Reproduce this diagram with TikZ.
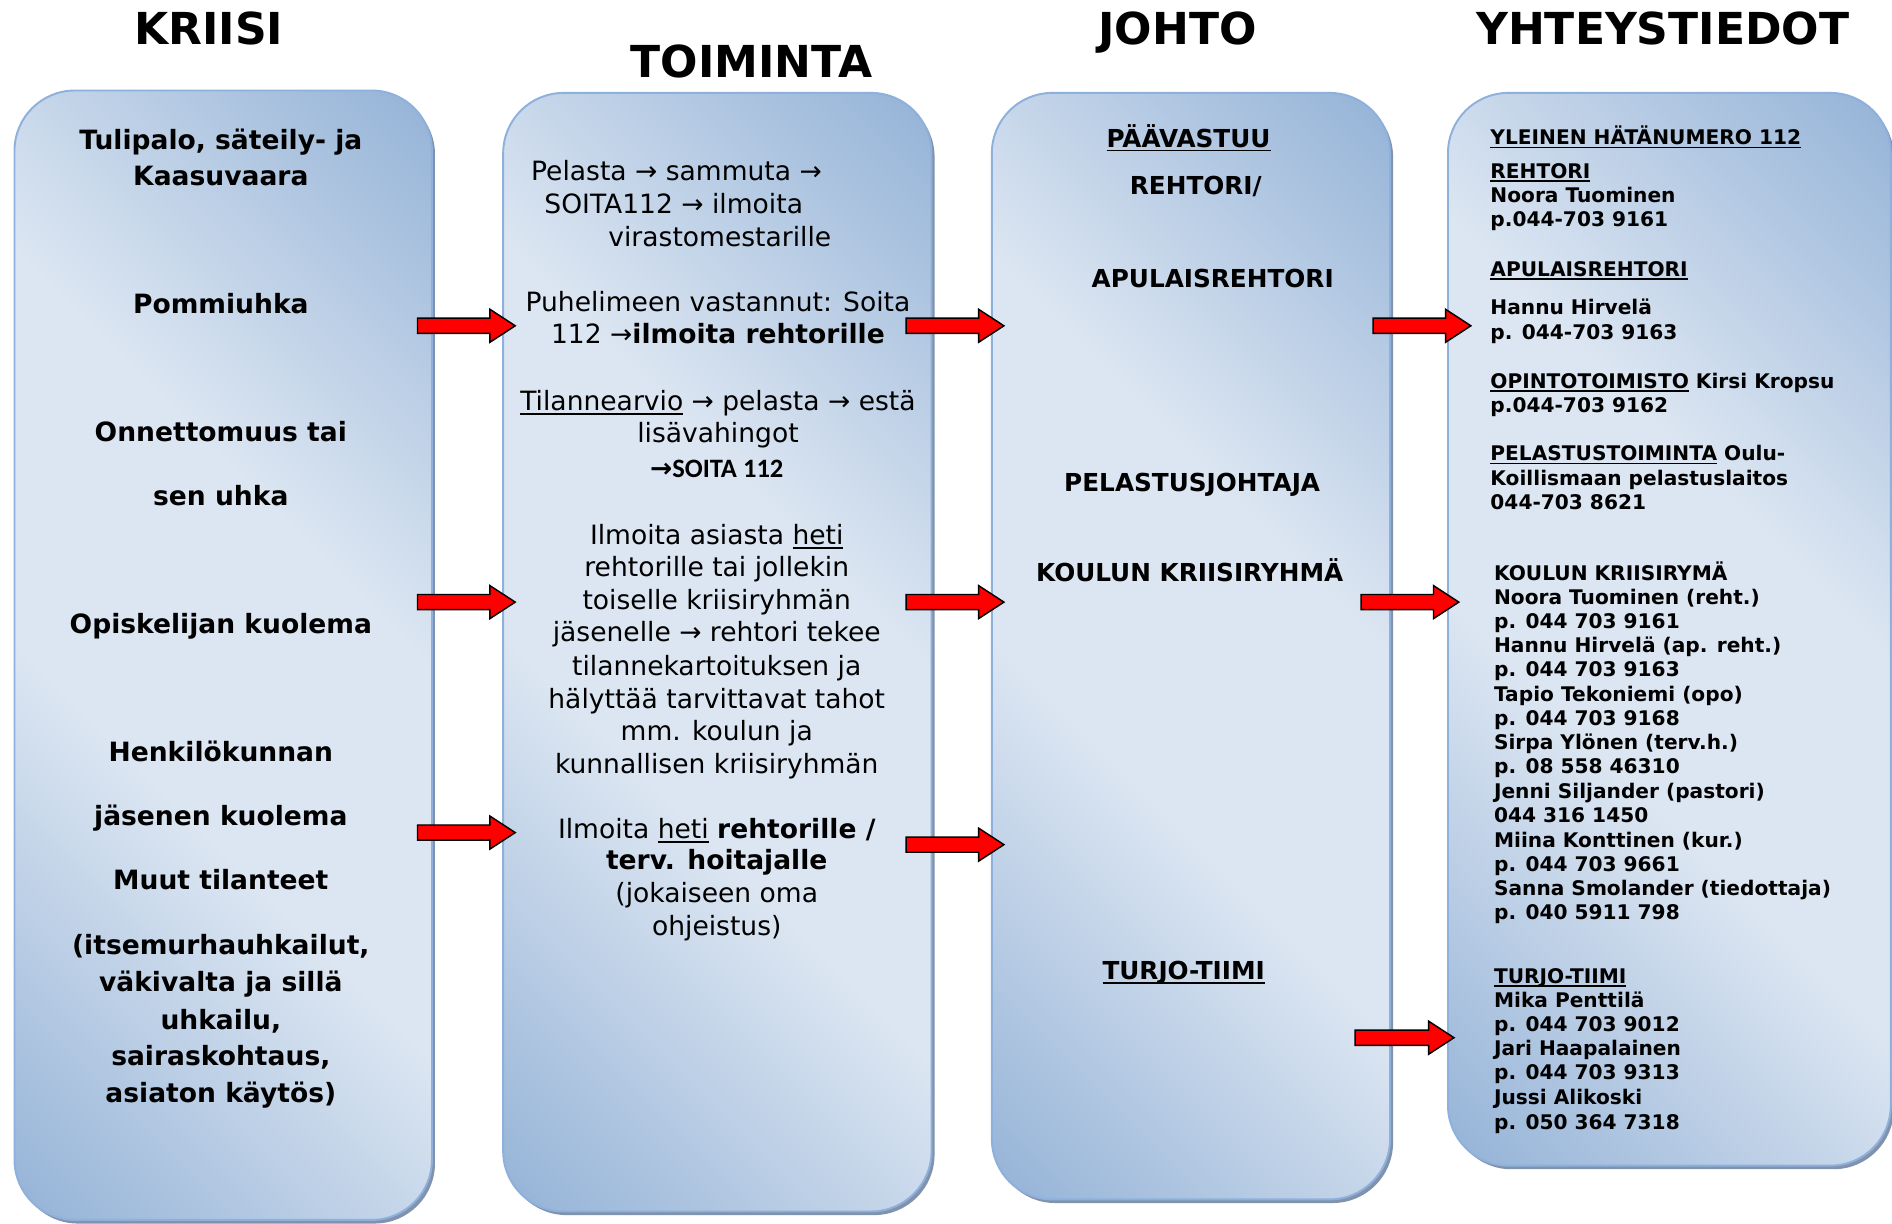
\documentclass[tikz,border=0pt]{standalone}
\usepackage{fontspec}
\setmainfont{DejaVu Sans}
\newfontfamily\calibrifont{Carlito}
\usetikzlibrary{calc,shadows}
\definecolor{bdark}{HTML}{95B3D7}
\definecolor{blight}{HTML}{DCE6F2}
\definecolor{bborder}{HTML}{8DB0DC}
\definecolor{shadowc}{HTML}{8193AC}
\pgfdeclarehorizontalshading{boxgrad}{100bp}{color(0bp)=(bdark); color(15bp)=(bdark); color(41bp)=(blight); color(59bp)=(blight); color(85bp)=(bdark); color(100bp)=(bdark)}
\newsavebox\myulbox
\newcommand\myul[1]{\sbox\myulbox{#1}\rlap{\rule[-0.17em]{\wd\myulbox}{0.075em}}\usebox\myulbox}
\newcommand\blockarr[2]{\filldraw[arrowst] ($(#1)+(0,-6.3)$) -- ($(#2)+(-21,-6.3)$) -- ($(#2)+(-21,-13.7)$) -- (#2) -- ($(#2)+(-21,13.7)$) -- ($(#2)+(-21,6.3)$) -- ($(#1)+(0,6.3)$) -- cycle;}
\begin{document}
\begin{tikzpicture}[x=1pt,y=-1pt,
  col/.style={draw=bborder, line width=1.6pt, rounded corners=50pt, shading=boxgrad, shading angle=45,
    drop shadow={shadow xshift=2.5pt, shadow yshift=-3pt, fill=shadowc, opacity=1}, inner sep=0pt},
  ttl/.style={font=\fontsize{36.5}{44}\selectfont\bfseries, anchor=base, inner sep=0pt},
  t1/.style={font=\fontsize{22}{26}\selectfont\bfseries, anchor=base, inner sep=0pt},
  t2/.style={font=\fontsize{22}{26}\selectfont, anchor=base, inner sep=0pt},
  t3/.style={font=\fontsize{20.5}{24}\selectfont\bfseries, anchor=base, inner sep=0pt},
  t4/.style={font=\fontsize{16.7}{20}\selectfont\bfseries, anchor=base west, inner sep=0pt},
  arrowst/.style={fill=red, draw=black, line width=1.2pt, line join=miter}]
\useasboundingbox (0,0) rectangle (1568,1014);
\clip (0,0) rectangle (1568,1014);
\fill[white] (0,0) rectangle (1568,1014);

% columns
\node[col, minimum width=346pt, minimum height=936pt] (box1) at (185,543) {};
\node[col, minimum width=355pt, minimum height=927pt] (box2) at (594.5,540.5) {};
\node[col, minimum width=330pt, minimum height=917pt] (box3) at (987,535.5) {};
\node[col, minimum width=367pt, minimum height=889pt] (box4) at (1383.5,521.5) {};

% titles
\node[ttl] (tKriisi) at (173,37) {KRIISI};
\node[ttl] (tToiminta) at (623,64) {TOIMINTA};
\node[ttl] (tJohto) at (976,37) {JOHTO};
\node[ttl] (tYht) at (1378,37) {YHTEYSTIEDOT};

% column 1
\node[t1] (k1) at (183,124) {Tulipalo, säteily- ja};
\node[t1] (k2) at (183,154) {Kaasuvaara};
\node[t1] (k3) at (183,260) {Pommiuhka};
\node[t1] (k4) at (183,366) {Onnettomuus tai};
\node[t1] (k5) at (183,419) {sen uhka};
\node[t1] (k6) at (183,525) {Opiskelijan kuolema};
\node[t1] (k7) at (183,631) {Henkilökunnan};
\node[t1] (k8) at (183,684) {jäsenen kuolema};
\node[t1] (k9) at (183,737) {Muut tilanteet};
\node[t1] (k10) at (183,791) {(itsemurhauhkailut,};
\node[t1] (k11) at (183,822) {väkivalta ja sillä};
\node[t1] (k12) at (183,853) {uhkailu,};
\node[t1] (k13) at (183,883) {sairaskohtaus,};
\node[t1] (k14) at (183,914) {asiaton käytös)};

% column 2
\node[t2, anchor=base west] (m1) at (440,150) {Pelasta → sammuta →};
\node[t2, anchor=base west] (m2) at (451,177) {SOITA112 → ilmoita};
\node[t2, anchor=base west] (m3) at (504,204) {virastomestarille};
\node[t2] (m4) at (595,258) {Puhelimeen vastannut: Soita};
\node[t2] (m5) at (595,285) {112 →\textbf{ilmoita rehtorille}};
\node[t2] (m6) at (595,340) {\myul{Tilannearvio} → pelasta → estä};
\node[t2] (m7) at (595,367) {lisävahingot};
\node[t2] (m8) at (594,396) {\textbf{→}{\calibrifont\bfseries SOITA 112}};
\node[t2] (m9) at (594,451) {Ilmoita asiasta \myul{heti}};
\node[t2] (m10) at (594,478) {rehtorille tai jollekin};
\node[t2] (m11) at (594,505) {toiselle kriisiryhmän};
\node[t2] (m12) at (594,532) {jäsenelle → rehtori tekee};
\node[t2] (m13) at (594,560) {tilannekartoituksen ja};
\node[t2] (m14) at (594,587) {hälyttää tarvittavat tahot};
\node[t2] (m15) at (594,614) {mm. koulun ja};
\node[t2] (m16) at (594,641) {kunnallisen kriisiryhmän};
\node[t2] (m17) at (594,695) {Ilmoita \myul{heti} \textbf{rehtorille /}};
\node[t2] (m18) at (594,721) {\textbf{terv. hoitajalle}};
\node[t2] (m19) at (594,748) {(jokaiseen oma};
\node[t2] (m20) at (594,775) {ohjeistus)};

% column 3
\node[t3] (j1) at (985,122) {\myul{PÄÄVASTUU}};
\node[t3] (j2) at (991,161) {REHTORI/};
\node[t3] (j3) at (1005,238) {APULAISREHTORI};
\node[t3] (j4) at (988,407) {PELASTUSJOHTAJA};
\node[t3] (j5) at (986,482) {KOULUN KRIISIRYHMÄ};
\node[t3] (j6) at (981,812) {\myul{TURJO-TIIMI}};

% column 4
\foreach \yy/\txt [count=\i] in {120/{\myul{YLEINEN HÄTÄNUMERO 112}}, 148/{\myul{REHTORI}}, 168/{Noora Tuominen}, 188/{p.044-703 9161}, 229/{\myul{APULAISREHTORI}}, 261/{Hannu Hirvelä}, 281/{p. 044-703 9163}, 322/{\myul{OPINTOTOIMISTO} Kirsi Kropsu}, 342/{p.044-703 9162}, 382/{\myul{PELASTUSTOIMINTA} Oulu-}, 402/{Koillismaan pelastuslaitos}, 422/{044-703 8621}}
  \node[t4] (yu\i) at (1235,\yy) {\txt};
\foreach \yy/\txt [count=\i] in {481/{KOULUN KRIISIRYMÄ}, 501/{Noora Tuominen (reht.)}, 521/{p. 044 703 9161}, 541/{Hannu Hirvelä (ap. reht.)}, 561/{p. 044 703 9163}, 581/{Tapio Tekoniemi (opo)}, 601/{p. 044 703 9168}, 621/{Sirpa Ylönen (terv.h.)}, 641/{p. 08 558 46310}, 662/{Jenni Siljander (pastori)}, 682/{044 316 1450}, 702/{Miina Konttinen (kur.)}, 722/{p. 044 703 9661}, 742/{Sanna Smolander (tiedottaja)}, 762/{p. 040 5911 798}, 815/{\myul{TURJO-TIIMI}}, 835/{Mika Penttilä}, 855/{p. 044 703 9012}, 875/{Jari Haapalainen}, 895/{p. 044 703 9313}, 915/{Jussi Alikoski}, 936/{p. 050 364 7318}}
  \node[t4] (yl\i) at (1238,\yy) {\txt};

% arrows
\coordinate (a1s) at (346,270); \coordinate (a1e) at (427,270);
\coordinate (a2s) at (346,499); \coordinate (a2e) at (427,499);
\coordinate (a3s) at (346,690); \coordinate (a3e) at (427,690);
\coordinate (b1s) at (751,270); \coordinate (b1e) at (832,270);
\coordinate (b2s) at (751,499); \coordinate (b2e) at (832,499);
\coordinate (b3s) at (751,700); \coordinate (b3e) at (832,700);
\coordinate (c1s) at (1138,270); \coordinate (c1e) at (1219,270);
\coordinate (c2s) at (1128,499); \coordinate (c2e) at (1209,499);
\coordinate (c3s) at (1123,860); \coordinate (c3e) at (1205,860);
\blockarr{a1s}{a1e}
\blockarr{a2s}{a2e}
\blockarr{a3s}{a3e}
\blockarr{b1s}{b1e}
\blockarr{b2s}{b2e}
\blockarr{b3s}{b3e}
\blockarr{c1s}{c1e}
\blockarr{c2s}{c2e}
\blockarr{c3s}{c3e}
\end{tikzpicture}
\end{document}
